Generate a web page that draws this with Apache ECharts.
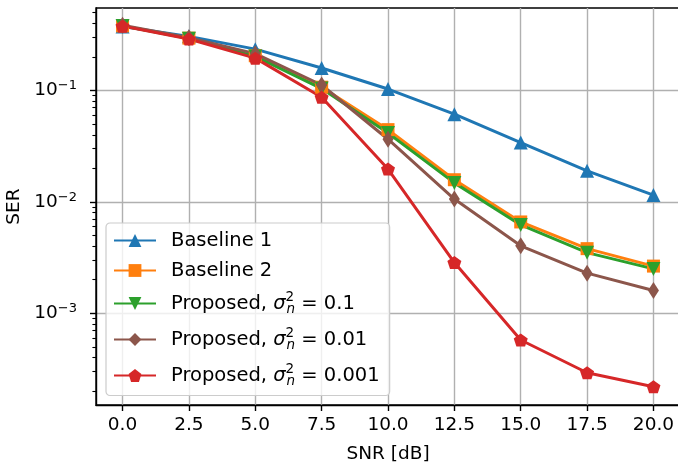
<!DOCTYPE html>
<html>
<head>
<meta charset="utf-8">
<script src="https://cdn.jsdelivr.net/npm/echarts@6/dist/echarts.min.js"></script>
<style>
  html, body { margin: 0; padding: 0; background: #fff; }
  #chart { width: 678px; height: 467px; }
</style>
</head>
<body>
<div id="chart"></div>
<script>
// SNR points (dB)
const snr = [0, 2.5, 5, 7.5, 10, 12.5, 15, 17.5, 20];

// SER values
const baseline1 = [0.375, 0.306, 0.235, 0.159, 0.103, 0.0612, 0.0341, 0.0190, 0.0115];
const baseline2 = [0.380, 0.295, 0.205, 0.107, 0.0445, 0.0158, 0.0066, 0.0038, 0.00265];
const proposed1 = [0.380, 0.292, 0.202, 0.104, 0.0415, 0.0148, 0.0062, 0.0035, 0.00250];
const proposed2 = [0.385, 0.298, 0.214, 0.112, 0.0365, 0.0106, 0.00403, 0.00229, 0.00160];
const proposed3 = [0.378, 0.290, 0.195, 0.087, 0.0197, 0.00285, 0.000575, 0.000292, 0.000219];

// axis ticks
const xTicks = [0, 2.5, 5, 7.5, 10, 12.5, 15, 17.5, 20];
const yMajorTicks = [1e-3, 1e-2, 1e-1];
const yMinorTicks = [
  2e-4, 3e-4, 4e-4, 5e-4, 6e-4, 7e-4, 8e-4, 9e-4,
  2e-3, 3e-3, 4e-3, 5e-3, 6e-3, 7e-3, 8e-3, 9e-3,
  2e-2, 3e-2, 4e-2, 5e-2, 6e-2, 7e-2, 8e-2, 9e-2,
  2e-1, 3e-1, 4e-1, 5e-1
];
const xMin = -1, xMax = 21;
const yMin = 1.5e-4, yMax = 0.55;

const FONT = 'DejaVu Sans';
const FS = 18.5;   // axis text
const LFS = 19.5;  // legend text
const pentagon = 'path://M0,-1L0.951,-0.309L0.588,0.809L-0.588,0.809L-0.951,-0.309Z';

function pts(arr) {
  return snr.map((x, i) => [x, arr[i]]);
}

function mkSeries(name, data, color, symbol, size, rotate) {
  return {
    name: name,
    type: 'line',
    data: pts(data),
    symbol: symbol,
    symbolSize: size,
    symbolRotate: rotate || 0,
    showAllSymbol: true,
    lineStyle: { color: color, width: 3 },
    itemStyle: { color: color, borderColor: color, borderWidth: 0 },
    emphasis: { disabled: true },
    animation: false
  };
}

const series = [
  mkSeries('b1', baseline1, '#1f77b4', 'triangle', 14),
  mkSeries('b2', baseline2, '#ff7f0e', 'rect', 13),
  mkSeries('p1', proposed1, '#2ca02c', 'triangle', 14, 180),
  mkSeries('p2', proposed2, '#8c564b', 'diamond', [11, 17]),
  mkSeries('p3', proposed3, '#d62728', pentagon, [14, 13])
];

const legendText = {
  b1: '{p|Baseline 1}',
  b2: '{p|Baseline 2}',
  p1: '{q|Proposed, }{it|σ}{sup|2}{sub|n}{t| = 0.1}',
  p2: '{q|Proposed, }{it|σ}{sup|2}{sub|n}{t| = 0.01}',
  p3: '{q|Proposed, }{it|σ}{sup|2}{sub|n}{t| = 0.001}'
};

const chart = echarts.init(document.getElementById('chart'), null, { renderer: 'canvas' });

const option = {
  animation: false,
  textStyle: { fontFamily: FONT, color: '#000' },
  grid: {
    left: 96,
    top: 8,
    width: 584,
    height: 397,
    show: true,
    borderColor: '#000',
    borderWidth: 1.4,
    backgroundColor: 'transparent',
    containLabel: false,
    outerBoundsMode: 'none'
  },
  xAxis: {
    type: 'value',
    min: xMin,
    max: xMax,
    name: 'SNR [dB]',
    nameLocation: 'middle',
    nameGap: 40,
    nameTextStyle: { fontFamily: FONT, fontSize: FS, color: '#000' },
    axisLine: { show: true, onZero: false, lineStyle: { color: '#000', width: 1.4 } },
    axisTick: { show: true, customValues: xTicks, length: 6, lineStyle: { color: '#000', width: 1.4 } },
    axisLabel: {
      customValues: xTicks,
      margin: 11,
      fontFamily: FONT,
      fontSize: FS,
      color: '#000',
      formatter: v => v.toFixed(1)
    },
    splitLine: { show: true, lineStyle: { color: '#b0b0b0', width: 1.4 } }
  },
  yAxis: [
    {
      type: 'log',
      logBase: 10,
      min: yMin,
      max: yMax,
      name: 'SER',
      nameLocation: 'middle',
      nameGap: 70,
      nameTextStyle: { fontFamily: FONT, fontSize: FS, color: '#000' },
      axisLine: { show: true, onZero: false, lineStyle: { color: '#000', width: 1.4 } },
      axisTick: { show: true, customValues: yMajorTicks, length: 6, lineStyle: { color: '#000', width: 1.4 } },
      axisLabel: {
        customValues: yMajorTicks,
        margin: 19,
        color: '#000',
        formatter: v => '{b|10}{s|\u2212' + Math.abs(Math.round(Math.log10(v))) + '}',
        rich: {
          b: { fontFamily: FONT, fontSize: FS, lineHeight: 22, color: '#000' },
          s: { fontFamily: FONT, fontSize: 13, lineHeight: 13, verticalAlign: 'top', color: '#000' }
        }
      },
      splitLine: { show: true, lineStyle: { color: '#b0b0b0', width: 1.4 } },
      minorTick: { show: false }
    },
    {
      type: 'log',
      logBase: 10,
      min: yMin,
      max: yMax,
      position: 'left',
      offset: 0,
      axisLine: { show: false, onZero: false },
      axisTick: { show: true, customValues: yMinorTicks, length: 3.6, lineStyle: { color: '#000', width: 1.1 } },
      axisLabel: { show: false },
      splitLine: { show: false }
    }
  ],
  legend: {
    left: 106,
    top: 223,
    orient: 'vertical',
    itemWidth: 42,
    itemHeight: 16,
    itemGap: 10,
    padding: [7.5, 10, 7, 7],
    backgroundColor: 'rgba(255,255,255,0.8)',
    borderColor: '#cccccc',
    borderWidth: 1.2,
    borderRadius: 4,
    data: ['b1', 'b2', 'p1', 'p2', 'p3'],
    formatter: name => legendText[name],
    textStyle: {
      fontFamily: FONT,
      fontSize: LFS,
      color: '#000',
      rich: {
        p: { fontFamily: FONT, fontSize: LFS, lineHeight: 18, padding: [0, 0, 0, 10], color: '#000' },
        q: { fontFamily: FONT, fontSize: LFS, lineHeight: 26, padding: [0, 0, 0, 10], color: '#000' },
        t: { fontFamily: FONT, fontSize: LFS, lineHeight: 26, color: '#000' },
        it: { fontFamily: FONT, fontStyle: 'italic', fontSize: LFS, lineHeight: 26, color: '#000' },
        sup: { fontFamily: FONT, fontSize: 13.5, lineHeight: 12, verticalAlign: 'top', width: 1, color: '#000' },
        sub: { fontFamily: FONT, fontStyle: 'italic', fontSize: 13.5, lineHeight: 13, verticalAlign: 'bottom', color: '#000' }
      }
    }
  },
  series: series
};

chart.setOption(option);
</script>
</body>
</html>
